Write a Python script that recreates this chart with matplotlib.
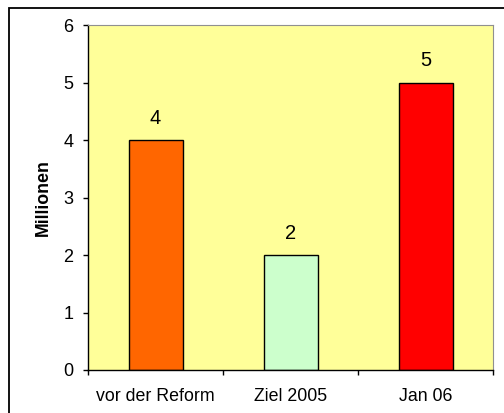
import matplotlib.pyplot as plt
from matplotlib.patches import Rectangle

plt.rcParams['font.family'] = ['Liberation Sans', 'DejaVu Sans']

kategorien = ['vor der Reform', 'Ziel 2005', 'Jan 06']
werte = [4, 2, 5]
farben = ['#FF6600', '#CCFFCC', '#FF0000']

fig = plt.figure(figsize=(5.04, 4.13), dpi=100)
ax = fig.add_axes([88/504, 43/413, 405/504, 345/413])
ax.set_facecolor('#FFFF99')

x = range(len(kategorien))
bars = ax.bar(x, werte, width=0.4, color=farben, edgecolor='black', linewidth=1)
for xi, w in zip(x, werte):
    ax.annotate(str(w), (xi, w), xytext=(0, 9), textcoords='offset points',
                ha='center', va='bottom', fontsize=14.5)

ax.set_xlim(-0.5, 2.5)
ax.set_ylim(0, 6)
ax.set_yticks(range(7))
ax.set_xticks([-0.5, 0.5, 1.5, 2.5])
ax.set_xticklabels([])
ax.set_xticks(list(x), minor=True)
ax.set_xticklabels(kategorien, minor=True)
ax.tick_params(axis='x', which='major', direction='out', length=3.5, width=1)
ax.tick_params(axis='x', which='minor', length=0, pad=13, labelsize=12.8)
ax.tick_params(axis='y', direction='out', length=3.5, width=1, pad=7, labelsize=13)
ax.set_ylabel('Millionen', fontweight='bold', fontsize=12.8, labelpad=8)

for s in ['top', 'right']:
    ax.spines[s].set_color('#909090')
for s in ['left', 'bottom']:
    ax.spines[s].set_color('black')
    ax.spines[s].set_linewidth(1)

fig.patches.append(Rectangle((9/504, -0.1), 1.2, (413-8)/413 + 0.1,
                             transform=fig.transFigure, fill=False,
                             edgecolor='black', linewidth=1.3))

fig.savefig('out.png', dpi=100)
